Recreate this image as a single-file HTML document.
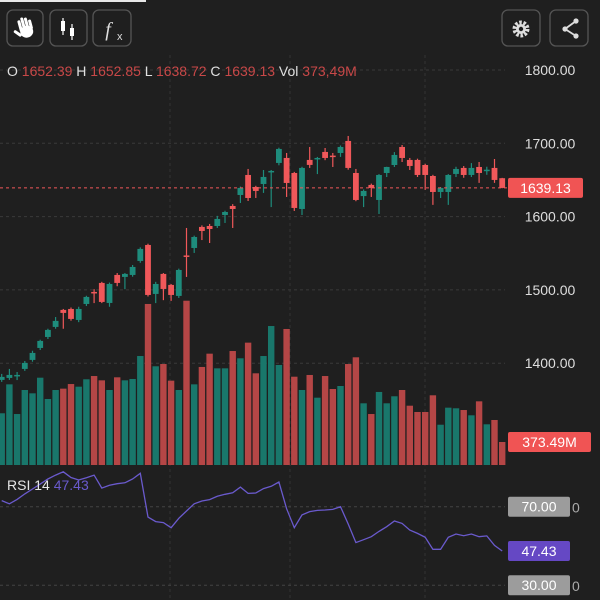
<!DOCTYPE html>
<html><head><meta charset="utf-8"><style>
html,body{margin:0;padding:0;background:#1f1f1f;}
svg{display:block;font-family:"Liberation Sans",sans-serif;}
</style></head><body>
<svg id="chart" width="600" height="600" viewBox="0 0 600 600">
<rect x="0" y="0" width="600" height="600" fill="#1f1f1f"/>
<rect x="0" y="0" width="146" height="2" fill="#e8e8e8"/>
<g id="grid"></g>
<g id="vol"></g>
<g id="candles"></g>
<g id="rsi"></g>
<g id="axis"></g>
<!-- toolbar -->
<g>
<rect x="7" y="10" width="36" height="36" rx="6" fill="none" stroke="#555" stroke-width="1.3"/>
<g fill="#fff" transform="rotate(-15 25 29)">
<ellipse cx="26" cy="32" rx="6.5" ry="6"/>
<rect x="19.5" y="19" width="3" height="12" rx="1.5"/>
<rect x="23" y="17" width="3" height="13" rx="1.5"/>
<rect x="26.5" y="18" width="3" height="12" rx="1.5"/>
<rect x="30" y="21" width="3" height="10" rx="1.5"/>
<rect x="15" y="27" width="3" height="9" rx="1.5" transform="rotate(-40 16.5 31)"/>
</g></g>
<g>
<rect x="50" y="10" width="37" height="36" rx="6" fill="none" stroke="#555" stroke-width="1.3"/>
<line x1="63" y1="18" x2="63" y2="35" stroke="#fff" stroke-width="1.2"/><rect x="61" y="21" width="4" height="10" fill="#fff"/>
<line x1="72" y1="24" x2="72" y2="40" stroke="#fff" stroke-width="1.2"/><rect x="70" y="28" width="4" height="8" fill="#fff"/></g>
<g>
<rect x="93" y="10" width="38" height="36" rx="6" fill="none" stroke="#555" stroke-width="1.3"/>
<text x="108" y="36" font-size="20" font-style="italic" font-family="Liberation Serif,serif" fill="#ddd" text-anchor="middle">f</text>
<text x="117" y="40" font-size="11" fill="#ddd">x</text></g>
<g>
<rect x="502" y="10" width="38" height="36" rx="6" fill="none" stroke="#555" stroke-width="1.3"/>
<circle cx="521" cy="29" r="6.5" fill="none" stroke="#ddd" stroke-width="4" stroke-dasharray="2.5 1.6"/>
<circle cx="521" cy="29" r="5" fill="#ddd"/><circle cx="521" cy="29" r="2.2" fill="#1f1f1f"/></g>
<g>
<rect x="550" y="10" width="38" height="36" rx="6" fill="none" stroke="#555" stroke-width="1.3"/>
<polyline points="576,21 565,29 576,36" fill="none" stroke="#ddd" stroke-width="1.8"/>
<circle cx="576" cy="21" r="2.6" fill="#ddd"/><circle cx="565" cy="29" r="2.6" fill="#ddd"/><circle cx="576" cy="36" r="2.6" fill="#ddd"/></g>
<text x="7" y="76" font-size="14" fill="#e0e0e0">O <tspan fill="#c84848">1652.39</tspan> H <tspan fill="#c84848">1652.85</tspan> L <tspan fill="#c84848">1638.72</tspan> C <tspan fill="#c84848">1639.13</tspan> Vol <tspan fill="#c84848">373,49M</tspan></text>
<text x="7" y="490" font-size="14" fill="#e6e6e6">RSI 14 <tspan fill="#6a5acd">47.43</tspan></text>
</svg>
<script>
const opens=[1377.2,1379.9,1383,1392.2,1404.5,1420.8,1435.8,1449.5,1472.7,1474,1459,1480.8,1497.2,1509.5,1482.2,1520.4,1517.7,1520.4,1539.5,1561.3,1494.5,1521.8,1506.8,1491.8,1547,1557.2,1585.9,1587.2,1587.2,1602.2,1614.5,1629.5,1656.8,1640.4,1644.5,1661,1673.2,1680,1659.5,1610.4,1677.3,1679,1688.2,1683.2,1686.8,1703.2,1659.5,1628,1643.2,1622.7,1659.5,1670.4,1695,1677.3,1677.3,1670.4,1655.4,1633.6,1633.6,1658.2,1666.4,1656.8,1667.7,1663,1666.4,1652.39];
const highs=[1385.4,1392.2,1388,1403,1417,1432,1447,1463,1474,1476,1477,1492,1501,1511,1510,1523,1523,1534,1558,1563,1511,1523,1508,1529,1584.5,1574,1588,1590,1601,1608,1617,1641,1665,1642,1663.6,1663.6,1694,1686.8,1661,1668,1695,1681.4,1693.6,1686.8,1697,1710,1665,1637,1645,1658,1668,1688,1697.7,1680,1679,1672,1657,1640.4,1658,1668,1669,1673,1674.5,1668,1678.6,1652.85];
const lows=[1374.5,1377.2,1377,1389.5,1402,1418,1433,1447,1447,1458,1456,1478,1482,1482,1477,1505,1501,1518,1537,1491,1482,1486,1485,1489,1517.7,1550.4,1568,1564,1584.5,1591.3,1584.5,1618.6,1621.3,1625.4,1632.3,1613,1670,1626.8,1607.7,1602.2,1666.4,1658,1677,1667.7,1681.4,1664,1621,1613,1626.8,1603.6,1654,1667.7,1674.5,1663.6,1654,1636.4,1616,1625.4,1616,1654,1653,1654,1646,1657,1646,1638.72];
const closes=[1381.3,1384,1384,1400.4,1414,1430.4,1445.4,1457.7,1468.6,1460.4,1474,1490.4,1495.8,1483.6,1508.1,1509.5,1521.8,1531.3,1555.9,1493.1,1508.1,1501.3,1493.1,1527.2,1545,1572.2,1580.4,1583.1,1596.8,1606.3,1610.4,1639.1,1625.4,1635,1654.1,1662.3,1692.3,1645.9,1611.8,1666.4,1670.5,1680,1680,1682.2,1695,1666.4,1622.7,1635,1639.1,1656.8,1667.7,1684.1,1680,1669.1,1656.8,1656.8,1633.6,1639.1,1656.8,1665,1656.8,1666.4,1659.5,1664,1650,1639.13];
const volumes=[840,1310,828,1218,1164,1418,1072,1218,1240,1315,1272,1392,1445,1375,1218,1424,1375,1397,1770,2615,1603,1640,1370,1218,2668,1310,1592,1808,1570,1570,1851,1733,1987,1489,1770,2257,1624,2209,1434,1218,1462,1093,1445,1234,1283,1640,1749,1002,828,1186,1002,1116,1218,963,861,861,1132,654,931,921,893,807,1034,661,731,373.49];
const rsiValues=[73.1,71.5,73.7,76.5,79.0,81.5,84.1,86.1,87.8,84.9,83.6,84.8,86.1,79.5,80.9,81.7,82.2,84.1,87.0,64.7,62.4,61.9,59.3,64.1,67.8,71.5,72.9,73.6,75.3,76.3,77.1,80.0,76.8,77.0,79.2,80.4,82.6,69.0,59.3,65.8,67.5,68.1,68.3,68.6,70.0,61.2,51.7,53.2,54.7,57.4,59.8,62.7,61.5,58.1,56.4,54.4,48.3,48.3,54.4,56.1,55.2,56.1,54.7,55.1,50.3,47.43];
const priceTicks=[1800,1700,1600,1500,1400];
const rsiLevels=[70,30];
const lastPrice=1639.13, lastVolume="373.49M", lastRsi=47.43;

const NS="http://www.w3.org/2000/svg";
function mk(tag,attrs,parent){const e=document.createElementNS(NS,tag);for(const k in attrs)e.setAttribute(k,attrs[k]);parent.appendChild(e);return e;}
const xAt=i=>1.7+i*7.7;
const yP=p=>70+(1800-p)*0.733;
const yV=v=>465-v/16.24;
const yR=v=>506.7+(70-v)*1.9625;
const GREEN="#1e8c7c",RED="#f0585a",VG="#19776b",VR="#b54646";
const grid=document.getElementById('grid');
priceTicks.forEach(p=>{const l=mk('line',{x1:0,x2:505,y1:yP(p),y2:yP(p),stroke:'#3a3a3a','stroke-dasharray':'3 3'},grid);

});
[170,290,425].forEach(x=>{const l=mk('line',{x1:x,x2:x,y1:55,y2:600,stroke:'#333','stroke-dasharray':'3 3'},grid);

});
rsiLevels.forEach(v=>{const l=mk('line',{x1:0,x2:505,y1:yR(v),y2:yR(v),stroke:'#444','stroke-dasharray':'3 3'},grid);

});
const vol=document.getElementById('vol');
volumes.forEach((v,i)=>{const up=closes[i]>=opens[i];const r=mk('rect',{x:xAt(i)-3.2,y:yV(v),width:6.4,height:465-yV(v),fill:up?VG:VR},vol);

});
const cg=document.getElementById('candles');
opens.forEach((o,i)=>{const c=closes[i],up=c>=o,col=up?GREEN:RED,x=xAt(i);
const g=mk('g',{},cg);


mk('line',{x1:x,x2:x,y1:yP(highs[i]),y2:yP(lows[i]),stroke:col,'stroke-width':1.2},g);
const t=yP(Math.max(o,c)),b=yP(Math.min(o,c));
mk('rect',{x:x-2.9,y:t,width:5.8,height:Math.max(1.5,b-t),fill:col},g);});
const pl=mk('line',{x1:0,x2:507,y1:yP(lastPrice),y2:yP(lastPrice),stroke:RED,'stroke-dasharray':'3 3','stroke-width':1},cg);


const rg=document.getElementById('rsi');
const pts=rsiValues.map((v,i)=>xAt(i).toFixed(1)+','+yR(v).toFixed(1)).join(' ');
const rl=mk('polyline',{points:pts,fill:'none',stroke:'#6a5acd','stroke-width':1.3},rg);


const ax=document.getElementById('axis');
priceTicks.forEach(p=>{const t=mk('text',{x:550,y:yP(p)+5,'font-size':14,fill:'#dedede','text-anchor':'middle'},ax);t.textContent=p.toFixed(2);

});
function tag(y,w,bg,fg,txt,name){const g=mk('g',{},ax);


mk('rect',{x:508,y:y-10,width:w,height:20,rx:2,fill:bg},g);
const t=mk('text',{x:508+w/2,y:y+5,'font-size':14,fill:fg,'text-anchor':'middle'},g);t.textContent=txt;}
tag(yP(lastPrice),75,'#f05454','#fff',lastPrice.toFixed(2),'last-price-tag');
tag(yV(373.49),83,'#f05454','#fff',lastVolume,'last-volume-tag');
rsiLevels.forEach(v=>{const t=mk('text',{x:572,y:yR(v)+6,'font-size':14,fill:'#aaa'},ax);t.textContent='0';


tag(yR(v),62,'#9c9c9c','#fff',v.toFixed(2),'rsi-level-tag');});
tag(yR(lastRsi),62,'#6548c4','#fff',lastRsi.toFixed(2),'rsi-value-tag');
</script>
</body></html>
